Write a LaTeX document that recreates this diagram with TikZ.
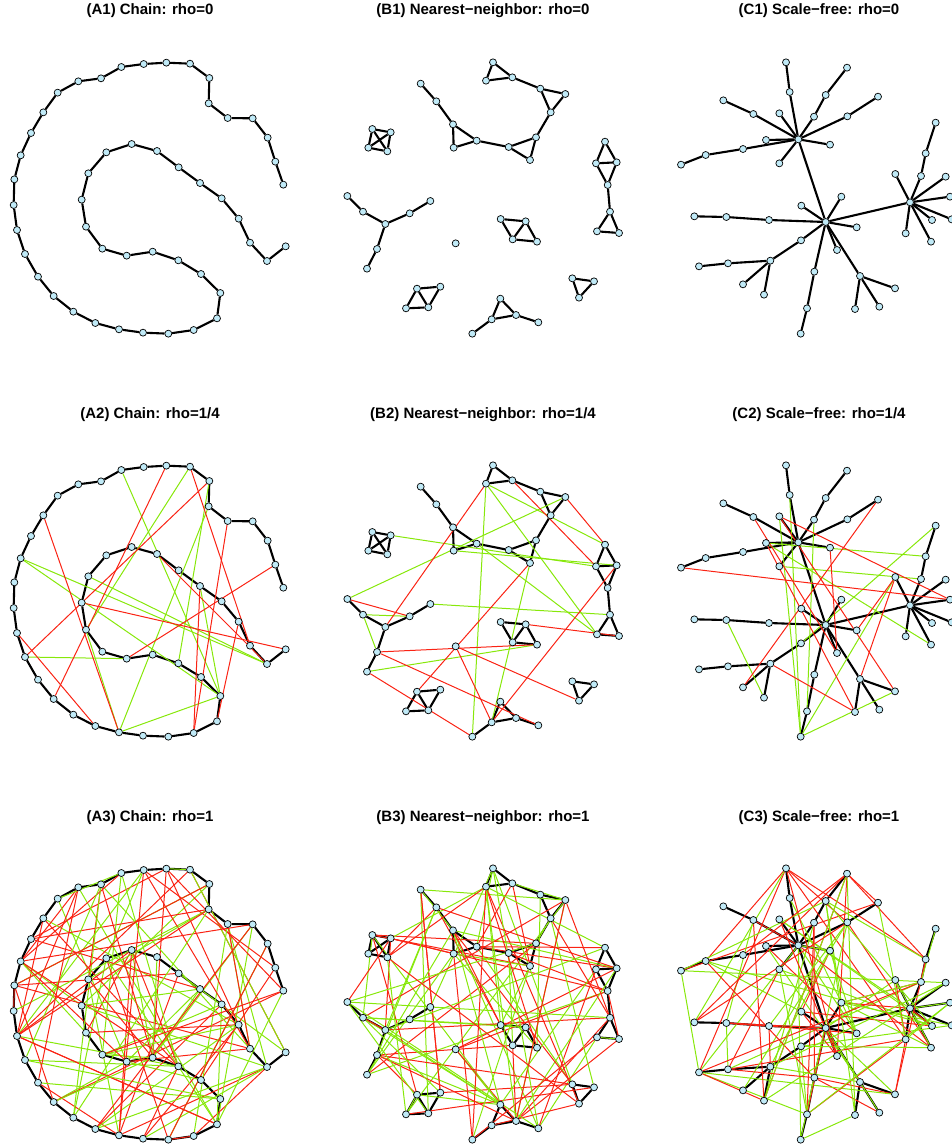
\documentclass[tikz,border=0pt]{standalone}
\usepackage{fontspec}
\setmainfont{Liberation Sans}
\pgfdeclarelayer{bg}
\pgfsetlayers{bg,main}

\definecolor{vfill}{RGB}{192,234,247}
\definecolor{addgreen}{RGB}{135,232,10}
\definecolor{addred}{RGB}{250,35,20}

\tikzset{
  vtx/.style={circle,draw=black,fill=vfill,line width=0.7pt,minimum size=7pt,inner sep=0pt},
  base/.style={line width=2.1pt,black},
  grn/.style={line width=1pt,addgreen},
  rd/.style={line width=1pt,addred},
  ttl/.style={font=\bfseries\fontsize{15}{18}\selectfont,anchor=base}
}

% layouts (same in every row)
\newcommand\chainpts{850/404,826/335,803/263,758/205,683/204,626/160,628/84,570/41,499/38,431/42,364/51,303/85,235/94,173/128,130/187,93/249,62/316,43/388,41/465,51/540,75/612,114/680,161/738,220/785,286/819,357/838,429/848,505/851,581/840,651/805,661/729,603/672,535/631,458/605,380/617,307/596,258/530,245/449,265/370,319/307,395/282,471/303,536/352,600/399,665/445,716/506,750/578,801/633,857/589}
\newcommand\nnpts{127/237,182/247,115/293,172/304,272/101,319/154,369/223,371/293,440/272,536/291,618/262,600/330,662/187,631/116,706/132,547/82,489/37,468/92,825/275,798/340,860/337,833/405,840/485,801/544,867/549,166/522,99/485,52/438,239/490,301/453,141/597,111/656,377/580,512/507,587/514,548/568,621/575,727/685,792/694,747/743,261/716,331/710,228/775,295/772,511/746,485/808,558/795,427/851,625/817}
\newcommand\sfpts{415/268,497/516,750/457,389/126,378/37,462/200,497/135,561/53,562/199,654/140,358/190,280/192,190/151,318/270,249/297,137/315,63/344,510/284,358/340,424/467,544/440,590/532,531/600,327/510,199/501,103/499,423/571,331/632,204/640,117/649,249/703,312/734,463/665,441/775,422/851,600/678,705/715,585/777,658/770,706/372,783/378,797/310,827/218,857/380,870/440,875/508,816/510,813/575,737/550}

% base edges
\newcommand\nnedges{1/2,1/3,1/4,2/3,2/4,3/4,5/6,6/7,7/8,7/9,8/9,9/10,10/11,10/12,11/12,11/13,13/14,13/15,14/15,14/16,16/17,16/18,17/18,19/20,19/21,20/21,20/22,21/22,22/23,23/24,23/25,24/25,26/27,27/28,26/29,29/30,26/31,31/32,34/35,34/36,35/36,35/37,36/37,38/39,38/40,39/40,41/42,41/43,41/44,42/44,43/44,45/46,45/47,46/47,46/48,47/49}
\newcommand\sfedges{1/4,4/5,1/6,6/7,7/8,1/9,9/10,1/11,1/12,12/13,1/14,1/15,15/16,16/17,1/18,1/19,1/2,2/20,2/21,2/22,2/23,2/24,24/25,25/26,2/27,27/28,28/29,29/30,28/31,28/32,2/33,33/34,34/35,2/36,36/37,36/38,36/39,2/3,3/40,3/41,41/42,42/43,3/44,3/45,3/46,3/47,3/48,3/49}

% added edges, rho=1/4
\newcommand\chainG{11/31,8/37,17/48,17/31,21/35,39/48,26/31,6/26,7/33,44/31,37/26}
\newcommand\chainR{9/23,7/21,15/26,38/49,2/35,20/25,8/47,44/29,5/29,42/48,46/30}
\newcommand\nnG{2/20,8/21,18/48,18/24,18/19,15/28,30/23,27/31,27/29,32/37,12/46,9/24}
\newcommand\nnR{18/26,16/20,15/19,28/29,31/37,31/49,32/48,33/40,33/46,12/41,21/46,35/25}
\newcommand\sfG{4/35,11/35,6/34,14/42,19/41,14/48,43/27,40/35,25/32,35/37}
\newcommand\sfR{11/45,17/45,12/23,10/31,18/23,14/38,28/38,11/37,40/36,22/40}

\newcommand\placenodes[4]{%
  \foreach [count=\i] \x/\y in #2
    \node[vtx] (#1-\i) at ({\x/3+#3},{\y/3+50+#4}) {};%
}
\newcommand\drawedges[3]{%
  \foreach \u/\v in #2 \draw[#3] (#1-\u) -- (#1-\v);%
}
\newcommand\chainedges[1]{%
  \foreach \i [evaluate=\i as \j using int(\i+1)] in {1,...,48}
    \draw[base] (#1-\i) -- (#1-\j);%
}
\newcommand\randedges[2]{%
  \foreach \k in {1,...,#2} {%
    \pgfmathrandominteger{\rndA}{1}{49}\pgfmathrandominteger{\rndB}{1}{49}%
    \ifnum\rndA=\rndB\else\draw[grn] (#1-\rndA) -- (#1-\rndB);\fi
    \pgfmathrandominteger{\rndA}{1}{49}\pgfmathrandominteger{\rndB}{1}{49}%
    \ifnum\rndA=\rndB\else\draw[rd] (#1-\rndA) -- (#1-\rndB);\fi
  }%
}

\begin{document}
\begin{tikzpicture}[x=1pt,y=-1pt]
\useasboundingbox (0,0) rectangle (951,1145);

% titles
\node[ttl] (tA1) at (150,15) {(A1) Chain: rho=0};
\node[ttl] (tB1) at (483,15) {(B1) Nearest−neighbor: rho=0};
\node[ttl] (tC1) at (819,15) {(C1) Scale−free: rho=0};
\node[ttl] (tA2) at (150,418) {(A2) Chain: rho=1/4};
\node[ttl] (tB2) at (483,418) {(B2) Nearest−neighbor: rho=1/4};
\node[ttl] (tC2) at (819,418) {(C2) Scale−free: rho=1/4};
\node[ttl] (tA3) at (150,821) {(A3) Chain: rho=1};
\node[ttl] (tB3) at (483,821) {(B3) Nearest−neighbor: rho=1};
\node[ttl] (tC3) at (819,821) {(C3) Scale−free: rho=1};

% vertices
\placenodes{A1}{\chainpts}{0}{0}
\placenodes{A2}{\chainpts}{0}{403}
\placenodes{A3}{\chainpts}{0}{806}
\placenodes{B1}{\nnpts}{330}{0}
\placenodes{B2}{\nnpts}{330}{403}
\placenodes{B3}{\nnpts}{330}{806}
\placenodes{C1}{\sfpts}{660}{0}
\placenodes{C2}{\sfpts}{660}{403}
\placenodes{C3}{\sfpts}{660}{806}

\begin{pgfonlayer}{bg}
% rho=0
\chainedges{A1}
\drawedges{B1}{\nnedges}{base}
\drawedges{C1}{\sfedges}{base}
% rho=1/4
\chainedges{A2}
\drawedges{A2}{\chainG}{grn}
\drawedges{A2}{\chainR}{rd}
\drawedges{B2}{\nnedges}{base}
\drawedges{B2}{\nnG}{grn}
\drawedges{B2}{\nnR}{rd}
\drawedges{C2}{\sfedges}{base}
\drawedges{C2}{\sfG}{grn}
\drawedges{C2}{\sfR}{rd}
% rho=1
\pgfmathsetseed{7}
\chainedges{A3}
\randedges{A3}{52}
\drawedges{B3}{\nnedges}{base}
\randedges{B3}{52}
\drawedges{C3}{\sfedges}{base}
\randedges{C3}{52}
\end{pgfonlayer}
\end{tikzpicture}
\end{document}
